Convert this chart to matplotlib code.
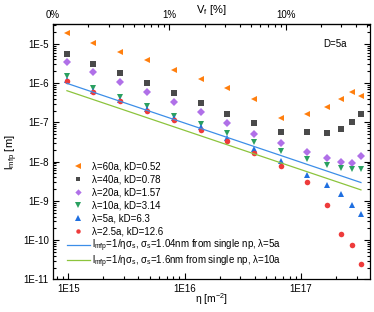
import numpy as np
import matplotlib
matplotlib.use("Agg")
import matplotlib.pyplot as plt
from matplotlib.ticker import FuncFormatter, LogLocator, FixedLocator

plt.rcParams['font.family'] = ['Liberation Sans', 'DejaVu Sans']
plt.rcParams['mathtext.fontset'] = 'custom'
plt.rcParams['mathtext.rm'] = 'Liberation Sans'
plt.rcParams['mathtext.it'] = 'Liberation Sans:italic'
plt.rcParams['mathtext.default'] = 'regular'

# nanoparticle density eta [m^-2]
eta = [9.75e14, 1.64e15, 2.80e15, 4.78e15, 8.05e15, 1.37e16, 2.32e16,
       3.94e16, 6.68e16, 1.13e17, 1.66e17, 2.19e17, 2.72e17, 3.27e17]

# mean free path [m] for each wavelength
l_60 = [1.87e-5, 1.08e-5, 6.37e-6, 3.85e-6, 2.18e-6, 1.28e-6, 7.7e-7,
        3.9e-7, 1.28e-7, 1.65e-7, 2.48e-7, 3.97e-7, 5.88e-7, 4.82e-7]
l_40 = [5.47e-6, 3.04e-6, 1.79e-6, 9.87e-7, 5.55e-7, 3.08e-7, 1.65e-7,
        9.9e-8, 5.83e-8, 5.73e-8, 5.5e-8, 6.83e-8, 1.05e-7, 1.65e-7]
l_20 = [3.54e-6, 1.90e-6, 1.09e-6, 6.05e-7, 3.39e-7, 1.85e-7, 9.9e-8,
        5.09e-8, 2.95e-8, 1.77e-8, 1.22e-8, 9.86e-9, 9.46e-9, 1.43e-8]
l_10 = [1.53e-6, 7.71e-7, 4.54e-7, 2.63e-7, 1.46e-7, 9.0e-8, 5.31e-8,
        3.13e-8, 1.88e-8, 1.15e-8, 8.26e-9, 6.81e-9, 6.42e-9, 6.42e-9]
l_5 = [1.21e-6, 6.46e-7, 3.74e-7, 2.17e-7, 1.28e-7, 7.55e-8, 3.96e-8,
       2.15e-8, 1.03e-8, 4.68e-9, 2.56e-9, 1.48e-9, 7.77e-10, 4.58e-10]
l_25 = [1.10e-6, 6.1e-7, 3.53e-7, 2.0e-7, 1.16e-7, 6.44e-8, 3.44e-8,
        1.70e-8, 7.93e-9, 3.10e-9, 7.91e-10, 1.44e-10, 7.43e-11, 2.48e-11]

labels = ["λ=60a, kD=0.52", "λ=40a, kD=0.78", "λ=20a, kD=1.57",
          "λ=10a, kD=3.14", "λ=5a, kD=6.3", "λ=2.5a, kD=12.6"]
line_labels = ["l$_{mfp}$=1/ησ$_s$, σ$_s$=1.04nm from single np, λ=5a",
               "l$_{mfp}$=1/ησ$_s$, σ$_s$=1.6nm from single np, λ=10a"]

# single particle cross sections [m]
sigma_5 = 1.04e-9
sigma_10 = 1.6e-9

fig = plt.figure(figsize=(3.74, 3.12), dpi=100)
ax = fig.add_axes([0.1417, 0.1042, 0.8476, 0.8189])

series = [l_60, l_40, l_20, l_10, l_5, l_25]
markers = ['<', 's', 'D', 'v', '^', 'o']
colors = ['#ff7f0e', '#4a4a4a', '#b070e8', '#2aa060', '#1f6fe0', '#ee3b3b']
sizes = [4.6, 4.0, 4.0, 4.6, 4.6, 4.0]
for y, m, c, s, lab in zip(series, markers, colors, sizes, labels):
    ax.plot(eta, y, linestyle='none', marker=m, color=c, ms=s, mew=0, label=lab)

eta_arr = np.array(eta)
l1, = ax.plot(eta_arr, 1 / (eta_arr * sigma_5), color='#3c8ee8', lw=0.9)
l2, = ax.plot(eta_arr, 1 / (eta_arr * sigma_10), color='#8cc43c', lw=0.9)

ax.set_xscale('log')
ax.set_yscale('log')
ax.set_xlim(7.4e14, 3.91e17)
ax.set_ylim(1e-11, 3.2e-5)

fmt = FuncFormatter(lambda v, p: "1E%d" % int(round(np.log10(v))))
ax.xaxis.set_major_formatter(fmt)
ax.yaxis.set_major_formatter(fmt)
ax.yaxis.set_major_locator(LogLocator(base=10, numticks=20))
ax.yaxis.set_minor_locator(LogLocator(base=10, subs=np.arange(2, 10), numticks=20))
ax.tick_params(which='both', direction='in', right=True, top=False, labelsize=7, width=0.8)
ax.tick_params(which='major', length=4.5, pad=3)
ax.tick_params(which='minor', length=2.2)
for sp in ax.spines.values():
    sp.set_linewidth(0.9)

ax.set_xlabel("η [m$^{-2}$]", fontsize=7.5, labelpad=-1.5)
ax.set_ylabel("l$_{mfp}$ [m]", fontsize=8, labelpad=2)

k = 0.1 / 7.41e14
sec = ax.secondary_xaxis('top', functions=(lambda x: x * k, lambda v: v / k))
sec.xaxis.set_major_locator(FixedLocator([0.1, 1, 10]))
sec.xaxis.set_major_formatter(FuncFormatter(lambda v, p: {0.1: "0%", 1: "1%", 10: "10%"}.get(round(v, 1), "")))
sec.xaxis.set_minor_locator(LogLocator(base=10, subs=np.arange(2, 10), numticks=20))
sec.tick_params(which='both', direction='in', labelsize=7, width=0.8)
sec.tick_params(which='major', length=4.5, pad=3)
sec.tick_params(which='minor', length=2.2)
fig.text(211 / 374, 1 - 10 / 312, "V$_f$ [%]", fontsize=8, ha='center', va='center')

ax.text(0.927, 0.922, "D=5a", transform=ax.transAxes, ha='right', va='center', fontsize=7)

leg_kw = dict(frameon=False, fontsize=7, borderpad=0, borderaxespad=0,
              handlelength=2.4, handletextpad=0.25, markerscale=0.8)
leg = ax.legend(loc='upper left', bbox_to_anchor=(0.043, 0.462), labelspacing=0.3, **leg_kw)
ax.add_artist(leg)
leg2 = ax.legend([l1], [line_labels[0]], loc='center left',
                 bbox_to_anchor=(0.043, (279.5 - 246) / 255.5), **leg_kw)
ax.add_artist(leg2)
ax.legend([l2], [line_labels[1]], loc='center left',
          bbox_to_anchor=(0.043, (279.5 - 261.5) / 255.5), **leg_kw)

fig.savefig("out.png", dpi=100)
